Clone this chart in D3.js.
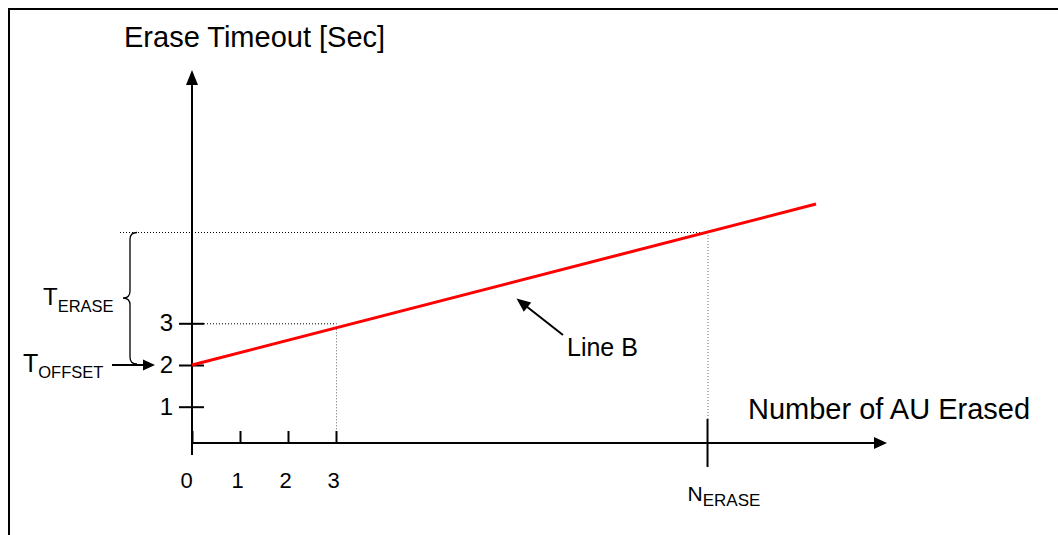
<!DOCTYPE html>
<html>
<head>
<meta charset="utf-8">
<script src="https://cdn.jsdelivr.net/npm/d3@7"></script>
<style>
  html, body { margin: 0; padding: 0; background: #fff; }
  svg { display: block; font-family: "Liberation Sans", Arial, Helvetica, sans-serif; }
</style>
</head>
<body>
<div class="chart-container"></div>
<script>
const xTicks = [0, 1, 2, 3];
const yTicks = [1, 2, 3];
const lineB = [{n: 0, t: 2}, {n: 13, t: 5.86}];
const guidePoint = {n: 3, t: 3};
const nErase = 10.74;
const tOffset = 2;
const yAxisTitle = 'Erase Timeout [Sec]';
const xAxisTitle = 'Number of AU Erased';
const lineTitle = 'Line B';

const width = 1058;
const height = 535;
const fontFamily = '"Liberation Sans", Arial, Helvetica, sans-serif';
const axisColor = '#000';
const lineColor = '#ff0000';

let x = d3.scaleLinear().domain([0, 3]).range([192, 336]);
let y = d3.scaleLinear().domain([1, 3]).range([406.7, 323.3]);

// the x axis is drawn a little above t = 0, like in the original sketch
let xAxisY = 443;
let yAxisBottom = 455;
let yAxisTop = 70;
let xAxisEnd = 887;

// value of line B where it meets N_ERASE
let lineAt = d3.scaleLinear()
   .domain([lineB[0].n, lineB[1].n])
   .range([lineB[0].t, lineB[1].t]);
let tErase = lineAt(nErase);

let svg = d3.select('.chart-container').append('svg')
   .attr('width', width)
   .attr('height', height);

// frame (top and left only)
svg.append('path')
   .attr('d', `M9,${height} L9,9 L${width},9`)
   .attr('fill', 'none')
   .attr('stroke', axisColor)
   .attr('stroke-width', 2);

function arrowHead(tipX, tipY, fromX, fromY, len, half) {
   let a = Math.atan2(tipY - fromY, tipX - fromX);
   let bx = tipX - len * Math.cos(a);
   let by = tipY - len * Math.sin(a);
   let px = -Math.sin(a) * half;
   let py = Math.cos(a) * half;
   return `M${tipX},${tipY} L${bx + px},${by + py} L${bx - px},${by - py} Z`;
}

// dotted guide lines
let dotted = svg.append('g')
   .attr('stroke', axisColor)
   .attr('stroke-width', 1)
   .attr('stroke-dasharray', '1,2');

dotted.append('line')
   .attr('x1', 120).attr('x2', x(nErase))
   .attr('y1', y(tErase) + 0.5).attr('y2', y(tErase) + 0.5);
dotted.append('line')
   .attr('x1', x(nErase) + 0.5).attr('x2', x(nErase) + 0.5)
   .attr('y1', y(tErase)).attr('y2', 419)
   .attr('stroke', '#666');
dotted.append('line')
   .attr('x1', 204).attr('x2', x(guidePoint.n))
   .attr('y1', y(guidePoint.t) + 0.5).attr('y2', y(guidePoint.t) + 0.5);
dotted.append('line')
   .attr('x1', x(guidePoint.n) + 0.5).attr('x2', x(guidePoint.n) + 0.5)
   .attr('y1', y(guidePoint.t)).attr('y2', xAxisY - 12)
   .attr('stroke', '#666');

// y axis
let yAxis = d3.axisLeft(y)
   .tickValues(yTicks)
   .tickSize(13)
   .tickPadding(6)
   .tickFormat(d3.format('d'));

let gy = svg.append('g')
   .attr('transform', `translate(${x(0)}, 0)`)
   .call(yAxis)
   .attr('font-family', fontFamily)
   .attr('font-size', 24);
gy.select('.domain').remove();
gy.selectAll('.tick line')
   .attr('x1', 12)
   .attr('stroke', axisColor)
   .attr('stroke-width', 2);
gy.selectAll('.tick text')
   .attr('fill', axisColor);

// x axis
let xAxis = d3.axisBottom(x)
   .tickValues(xTicks)
   .tickSize(-12)
   .tickPadding(29)
   .tickFormat(d3.format('d'));

let gx = svg.append('g')
   .attr('transform', `translate(0, ${xAxisY})`)
   .call(xAxis)
   .attr('font-family', fontFamily)
   .attr('font-size', 22);
gx.select('.domain').remove();
gx.selectAll('.tick line')
   .attr('stroke', axisColor)
   .attr('stroke-width', 2);
gx.selectAll('.tick text')
   .attr('fill', axisColor)
   .attr('dx', (d) => d === 0 ? -6 : -3);

// axis lines with arrows
svg.append('line')
   .attr('x1', x(0)).attr('x2', x(0))
   .attr('y1', yAxisBottom).attr('y2', yAxisTop + 12)
   .attr('stroke', axisColor)
   .attr('stroke-width', 2);
svg.append('path')
   .attr('d', arrowHead(x(0), yAxisTop, x(0), yAxisBottom, 15, 6))
   .attr('fill', axisColor);

svg.append('line')
   .attr('x1', x(0)).attr('x2', xAxisEnd - 10)
   .attr('y1', xAxisY).attr('y2', xAxisY)
   .attr('stroke', axisColor)
   .attr('stroke-width', 2);
svg.append('path')
   .attr('d', arrowHead(xAxisEnd, xAxisY, x(0), xAxisY, 13, 6))
   .attr('fill', axisColor);

// N_ERASE tick
svg.append('line')
   .attr('x1', x(nErase)).attr('x2', x(nErase))
   .attr('y1', 419).attr('y2', 467)
   .attr('stroke', axisColor)
   .attr('stroke-width', 2);

let nLabel = svg.append('text')
   .attr('x', x(nErase) - 20)
   .attr('y', 501)
   .attr('fill', axisColor);
nLabel.append('tspan').style('font-size', '21px').text('N');
nLabel.append('tspan').attr('dy', 5).style('font-size', '17px').text('ERASE');

// line B
let line = d3.line()
   .x((d) => x(d.n))
   .y((d) => y(d.t));

svg.append('path')
   .datum(lineB)
   .attr('d', line)
   .attr('fill', 'none')
   .attr('stroke', lineColor)
   .attr('stroke-width', 3);

// Line B callout
svg.append('line')
   .attr('x1', 563).attr('y1', 335)
   .attr('x2', 526).attr('y2', 306)
   .attr('stroke', axisColor)
   .attr('stroke-width', 2);
svg.append('path')
   .attr('d', arrowHead(516.5, 298.5, 563, 335, 14, 6))
   .attr('fill', axisColor);

svg.append('text')
   .attr('x', 567)
   .attr('y', 356)
   .attr('fill', axisColor)
   .style('font-size', '25px')
   .text(lineTitle);

// brace for T_ERASE
let bTop = y(tErase) + 0.5;
let bBot = y(tOffset) - 1;
let bMid = 298;
svg.append('path')
   .attr('d', `M137,${bTop} Q130,${bTop} 130,${bTop + 7} L130,${bMid - 7} Q130,${bMid} 123,${bMid}` +
              ` Q130,${bMid} 130,${bMid + 7} L130,${bBot - 7} Q130,${bBot} 137,${bBot}`)
   .attr('fill', 'none')
   .attr('stroke', axisColor)
   .attr('stroke-width', 1.3);

let teLabel = svg.append('text')
   .attr('x', 43)
   .attr('y', 305)
   .attr('fill', axisColor);
teLabel.append('tspan').style('font-size', '24px').text('T');
teLabel.append('tspan').attr('dy', 7).style('font-size', '16.5px').text('ERASE');

// T_OFFSET arrow
svg.append('line')
   .attr('x1', 112).attr('x2', 145)
   .attr('y1', y(tOffset)).attr('y2', y(tOffset))
   .attr('stroke', axisColor)
   .attr('stroke-width', 2);
svg.append('path')
   .attr('d', arrowHead(155, y(tOffset), 112, y(tOffset), 12, 5.5))
   .attr('fill', axisColor);

let toLabel = svg.append('text')
   .attr('x', 23)
   .attr('y', 372)
   .attr('fill', axisColor);
toLabel.append('tspan').style('font-size', '25px').text('T');
toLabel.append('tspan').attr('dy', 6).style('font-size', '16.5px').text('OFFSET');

// axis titles
svg.append('text')
   .attr('x', 124)
   .attr('y', 47)
   .attr('fill', axisColor)
   .style('font-size', '29px')
   .text(yAxisTitle);

svg.append('text')
   .attr('x', 748)
   .attr('y', 419)
   .attr('fill', axisColor)
   .style('font-size', '29px')
   .text(xAxisTitle);
</script>
</body>
</html>
